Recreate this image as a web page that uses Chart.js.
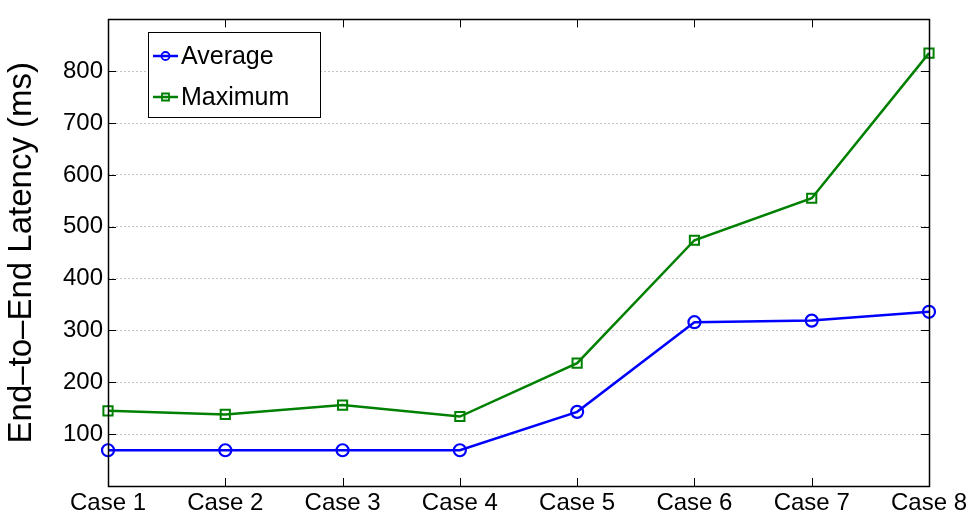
<!DOCTYPE html>
<html>
<head>
<meta charset="utf-8">
<script src="https://cdn.jsdelivr.net/npm/chart.js@4/dist/chart.umd.min.js"></script>
<style>
  html, body { margin: 0; padding: 0; background: #fff; }
  #wrap { width: 971px; height: 515px; }
</style>
</head>
<body>
<div id="wrap"><canvas id="latencyChart" width="971" height="515"></canvas></div>
<script>
const cases = ['Case 1', 'Case 2', 'Case 3', 'Case 4', 'Case 5', 'Case 6', 'Case 7', 'Case 8'];
const averageMs = [69, 69, 69, 69, 143, 316, 319, 336];
const maximumMs = [145, 138, 156, 134, 237, 474, 555, 835];
const yTicks = [100, 200, 300, 400, 500, 600, 700, 800];

const FONT = '"Liberation Sans", Arial, Helvetica, sans-serif';

// MATLAB-style box, inward tick marks and in-plot legend
const matlabFrame = {
  id: 'matlabFrame',
  afterDatasetsDraw(chart) {
    const { ctx, chartArea: a, scales } = chart;
    ctx.save();
    ctx.strokeStyle = '#000';
    ctx.lineWidth = 1;
    ctx.beginPath();
    yTicks.forEach(v => {
      const y = Math.round(scales.y.getPixelForValue(v)) + 0.5;
      ctx.moveTo(a.left, y); ctx.lineTo(a.left + 8, y);
      ctx.moveTo(a.right, y); ctx.lineTo(a.right - 8, y);
    });
    cases.forEach((c, i) => {
      const x = Math.round(scales.x.getPixelForValue(i)) + 0.5;
      ctx.moveTo(x, a.bottom); ctx.lineTo(x, a.bottom - 8);
      ctx.moveTo(x, a.top); ctx.lineTo(x, a.top + 8);
    });
    ctx.stroke();
    ctx.lineWidth = 1.5;
    ctx.strokeRect(Math.round(a.left) + 0.5, Math.round(a.top) + 0.5, Math.round(a.right - a.left), Math.round(a.bottom - a.top));

    // legend
    const lx = 148.5, ly = 32.5, lw = 172, lh = 85;
    ctx.fillStyle = '#fff';
    ctx.fillRect(lx, ly, lw, lh);
    ctx.lineWidth = 1;
    ctx.strokeStyle = '#000';
    ctx.strokeRect(lx, ly, lw, lh);
    ctx.font = '25px ' + FONT;
    ctx.textBaseline = 'middle';
    chart.data.datasets.forEach((ds, i) => {
      const cy = 56 + i * 41;
      ctx.strokeStyle = ds.borderColor;
      ctx.lineWidth = 2.5;
      ctx.beginPath();
      ctx.moveTo(153, cy); ctx.lineTo(178, cy);
      ctx.stroke();
      ctx.lineWidth = 1.8;
      ctx.beginPath();
      if (ds.pointStyle === 'circle') {
        ctx.arc(165.5, cy, 4, 0, Math.PI * 2);
      } else {
        ctx.rect(162, cy - 3.5, 7, 7);
      }
      ctx.stroke();
      ctx.fillStyle = '#000';
      ctx.fillText(ds.label, 181, cy + 1);
    });
    ctx.restore();
  }
};

new Chart(document.getElementById('latencyChart'), {
  type: 'line',
  data: {
    labels: cases,
    datasets: [
      {
        label: 'Average',
        data: averageMs,
        borderColor: '#0000ff',
        backgroundColor: 'rgba(0,0,0,0)',
        borderWidth: 2.5,
        pointStyle: 'circle',
        pointRadius: 6,
        pointBorderWidth: 2.2,
        tension: 0
      },
      {
        label: 'Maximum',
        data: maximumMs,
        borderColor: '#008000',
        backgroundColor: 'rgba(0,0,0,0)',
        borderWidth: 2.5,
        pointStyle: 'rect',
        pointRadius: 6.5,
        pointBorderWidth: 2,
        tension: 0
      }
    ]
  },
  options: {
    responsive: false,
    animation: false,
    layout: { padding: { top: 9, right: 42, left: 0, bottom: 0 } },
    plugins: {
      legend: { display: false },
      tooltip: { enabled: false }
    },
    scales: {
      x: {
        offset: false,
        grid: { display: false, drawTicks: false },
        border: { display: false },
        ticks: {
          color: '#000',
          font: { family: FONT, size: 24 },
          padding: 3,
          maxRotation: 0,
          autoSkip: false
        },
        afterFit(scale) { scale.height = 29; }
      },
      y: {
        min: 0,
        max: 900,
        afterBuildTicks(scale) {
          scale.ticks = yTicks.map(v => ({ value: v }));
        },
        grid: {
          color: '#c4c4c4',
          lineWidth: 1,
          drawTicks: false
        },
        border: { display: false, dash: [2, 2] },
        ticks: {
          color: '#000',
          font: { family: FONT, size: 24 },
          padding: 5
        },
        title: {
          display: true,
          text: 'End–to–End Latency (ms)',
          color: '#000',
          font: { family: FONT, size: 33 },
          padding: { top: 2, bottom: 0 }
        },
        afterFit(scale) { scale.width = 108; }
      }
    }
  },
  plugins: [matlabFrame]
});
</script>
</body>
</html>
